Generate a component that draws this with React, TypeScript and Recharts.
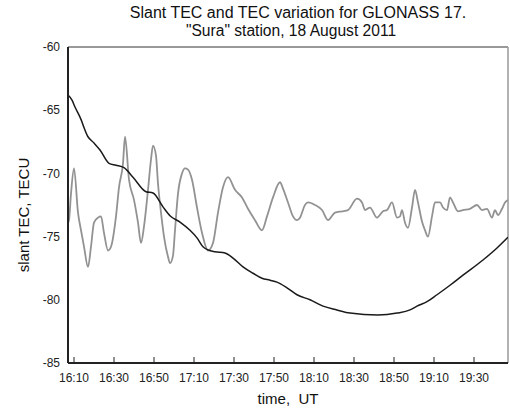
import React from 'react';
import { LineChart, Line, XAxis, YAxis, ReferenceLine } from 'recharts';

// time in minutes after 16:00 UT
const slantTime = [7, 9, 10.5, 13, 17, 20, 23, 27.5, 31, 35, 39.5, 46, 49.5, 54.5, 58, 63, 68, 71.5, 74.5, 77, 80.5, 85.5, 89.5, 94.5, 99.5, 104, 108, 111.5, 116.5, 121.5, 128, 134.5, 141.5, 148, 162, 171.5, 178, 181.5, 186.5, 191.5, 198, 204.5, 214.5, 221.5, 227];
const slantTec = [-63.8, -64.2, -64.75, -65.55, -67.1, -67.6, -68.15, -69.2, -69.35, -69.55, -70.3, -71.45, -71.55, -72.65, -73.35, -73.85, -74.5, -75.1, -75.8, -76.05, -76.2, -76.3, -76.7, -77.4, -77.9, -78.3, -78.45, -78.6, -79.05, -79.6, -80.0, -80.5, -80.8, -81.05, -81.2, -81.05, -80.8, -80.5, -80.15, -79.6, -78.85, -78.05, -76.85, -75.9, -75.05];

const varTime = [7, 7.5, 8.5, 10, 12, 13.5, 15, 17, 18.5, 20, 22, 23.5, 25, 27, 28.5, 31, 32.5, 34.5, 35.5, 37.5, 40, 42, 43.5, 45, 47, 48.5, 49.5, 51, 52, 53.5, 55, 57, 58, 59.5, 60.5, 62, 64, 65.5, 67, 69, 71.5, 74, 77, 79.5, 82, 84.5, 87, 90.5, 94, 97, 100.5, 104, 106.5, 109.5, 113, 114.5, 117, 119.5, 121.5, 123, 125.5, 127, 130.5, 134, 137, 140.5, 144, 147, 151.5, 154, 155.5, 158, 161.5, 164.5, 166.5, 169, 171.5, 173, 174, 175.5, 177, 179, 180.5, 182, 184, 185.5, 187, 189, 190.5, 193, 194.5, 196.5, 198, 199.5, 202, 204.5, 208, 211.5, 214, 216.5, 219, 220.5, 222, 224, 225.5, 227];
const varTec = [-73.9, -73.7, -71.6, -69.6, -73.1, -74.5, -75.8, -77.4, -75.8, -73.9, -73.5, -73.4, -74.7, -76.1, -75.8, -73.4, -71.1, -69.2, -67.1, -70.5, -72.1, -73.9, -75.5, -74.2, -71.3, -68.9, -67.8, -68.6, -70.8, -73.1, -75.0, -76.6, -77.1, -76.5, -74.5, -71.6, -70.0, -69.6, -69.7, -70.5, -72.7, -74.7, -76.1, -75.5, -73.1, -71.1, -70.3, -71.3, -71.9, -72.8, -73.7, -74.5, -73.4, -71.9, -70.7, -71.2, -72.3, -73.4, -73.7, -73.5, -72.5, -72.3, -72.5, -72.9, -73.7, -73.1, -73.0, -72.9, -72.0, -72.3, -72.9, -72.7, -73.5, -73.0, -72.9, -72.3, -73.5, -73.4, -72.9, -73.9, -74.3, -72.7, -71.3, -72.3, -73.8, -74.5, -75.0, -73.4, -72.3, -72.3, -72.7, -72.9, -71.9, -72.3, -73.0, -72.9, -72.8, -72.5, -72.9, -72.8, -73.5, -72.9, -73.3, -72.8, -72.3, -72.1];

const xTicks = [10, 30, 50, 70, 90, 110, 130, 150, 170, 190, 210];
const yTicks = [-85, -80, -75, -70, -65, -60];

const titleLine1 = 'Slant TEC and TEC variation for GLONASS 17.';
const titleLine2 = '"Sura" station, 18 August 2011';
const yLabel = 'slant TEC, TECU';
const xLabel = 'time,  UT';

const slantData = slantTime.map((t, i) => ({ t, v: slantTec[i] }));
const varData = varTime.map((t, i) => ({ t, v: varTec[i] }));

const FONT = '"Liberation Sans", Arial, sans-serif';

const fmtTime = (m: number) => {
  const h = 16 + Math.floor(m / 60);
  const mm = m % 60;
  return `${h}:${mm < 10 ? '0' : ''}${mm}`;
};

const XTick = (props: any) => {
  const { x, y, payload } = props;
  return (
    <g>
      <line x1={x} x2={x} y1={y - 10} y2={y - 16} stroke="#222" strokeWidth={1} />
      <text x={x} y={y} dy="0.71em" textAnchor="middle" fontSize={12} fontFamily={FONT} fill="#222">
        {fmtTime(payload.value)}
      </text>
    </g>
  );
};

export default function App() {
  return (
    <div style={{ position: 'absolute', left: 0, top: 0, width: 510, height: 412, background: '#fff' }}>
      <LineChart width={510} height={412} margin={{ top: 47, right: 2, left: 0, bottom: 0 }}>
        <XAxis
          type="number"
          dataKey="t"
          domain={[7, 227]}
          ticks={xTicks}
          allowDataOverflow
          height={49}
          tickSize={6}
          tickMargin={4}
          tickLine={false}
          tick={<XTick />}
          axisLine={{ stroke: '#222', strokeWidth: 2 }}
        />
        <YAxis
          type="number"
          domain={[-85, -60]}
          ticks={yTicks}
          allowDataOverflow
          width={68}
          tickLine={false}
          axisLine={{ stroke: '#222', strokeWidth: 2 }}
          tick={{ fontSize: 12, fontFamily: FONT, fill: '#222' }}
        />
        <ReferenceLine y={-60} stroke="#777" strokeWidth={1.5} />
        <ReferenceLine x={227} stroke="#999" strokeWidth={1.5} />
        <Line data={varData} dataKey="v" type="monotone" stroke="#929292" strokeWidth={1.8} dot={false} isAnimationActive={false} />
        <Line data={slantData} dataKey="v" type="monotone" stroke="#1a1a1a" strokeWidth={1.5} dot={false} isAnimationActive={false} />
      </LineChart>
      <svg width={510} height={412} style={{ position: 'absolute', left: 0, top: 0, pointerEvents: 'none' }}>
        <text x={298} y={18} textAnchor="middle" fontSize={16} fontFamily={FONT} fill="#111">{titleLine1}</text>
        <text x={291} y={36} textAnchor="middle" fontSize={15.6} fontFamily={FONT} fill="#111">{titleLine2}</text>
        <text x={0} y={0} transform="translate(29,215) rotate(-90)" textAnchor="middle" fontSize={15} fontFamily={FONT} fill="#111">{yLabel}</text>
        <text x={288} y={404} textAnchor="middle" fontSize={15} fontFamily={FONT} fill="#111" style={{ whiteSpace: 'pre' }}>{xLabel}</text>
      </svg>
    </div>
  );
}
